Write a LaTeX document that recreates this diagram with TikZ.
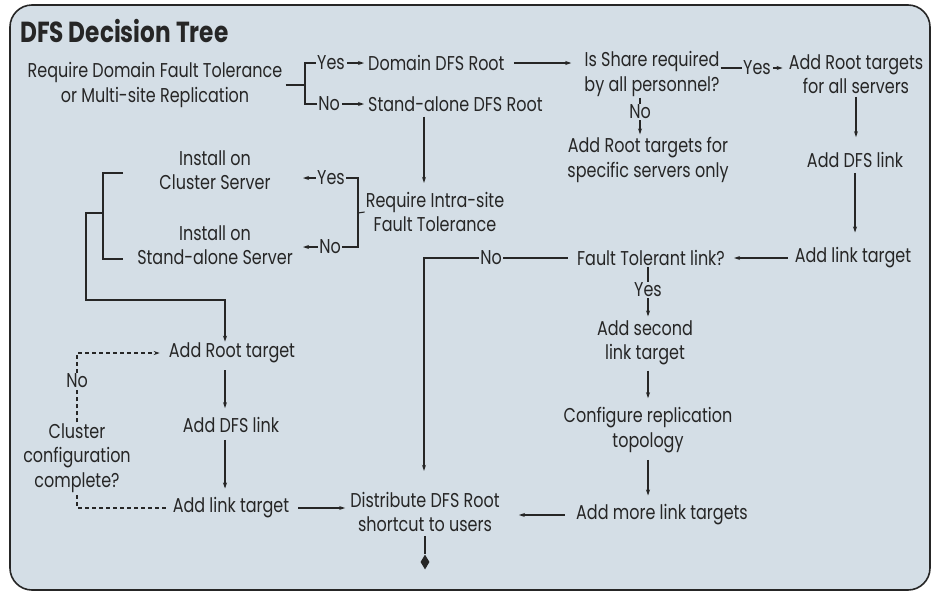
\documentclass[tikz,border=0pt]{standalone}
\usepackage{fontspec}
\newfontfamily\fut{Poppins}[FakeStretch=0.8]
\usetikzlibrary{arrows.meta,shapes.geometric}
\definecolor{bg}{HTML}{D4DEE6}
\definecolor{ink}{HTML}{262626}
\begin{document}
\begin{tikzpicture}[x=1pt,y=-1pt,
 t/.style={inner sep=1pt, align=center, text=ink, font=\fut\fontsize{20}{24.5}\selectfont},
 arr/.style={draw=ink, line width=1.1pt, -{Stealth[length=6pt,width=4pt]}},
 ln/.style={draw=ink, line width=1.1pt},
 dsh/.style={draw=ink, line width=1.1pt, dash pattern=on 4pt off 3pt},
]
\useasboundingbox (0,0) rectangle (936,595);
\draw[fill=bg, draw=ink, line width=1.6pt, rounded corners=22pt] (10,5) rectangle (930,590);

\node[t, anchor=west, font=\fut\bfseries\fontsize{29}{32}\selectfont] (title) at (19,31) {DFS Decision Tree};

\node[t] (req) at (155,85) {Require Domain Fault Tolerance\\or Multi-site Replication};
\coordinate (bk1) at (305,85);
\node[t] (yes1) at (331,63) {Yes};
\node[t] (no1) at (329,104) {No};
\node[t, anchor=west] (dom) at (367,63) {Domain DFS Root};
\node[t, anchor=west] (sa) at (367,104) {Stand-alone DFS Root};
\node[t] (share) at (652,74) {Is Share required\\by all personnel?};
\node[t] (yes3) at (757,68) {Yes};
\node[t] (addroot) at (856,74) {Add Root targets\\for all servers};
\node[t] (no2) at (640,112) {No};
\node[t] (spec) at (648,160) {Add Root targets for\\specific servers only};
\node[t] (adddfs) at (855,160) {Add DFS link};
\node[t] (addlink) at (853,258) {Add link target};
\node[t] (ftl) at (651,258) {Fault Tolerant link?};
\node[t] (no3) at (491,258) {No};
\coordinate (c1) at (424,258);
\node[t] (yes4) at (648,290) {Yes};
\node[t] (second) at (645,343) {Add second\\link target};
\node[t] (config) at (648,430) {Configure replication\\topology};
\node[t] (more) at (662,515) {Add more link targets};
\node[t] (dist) at (425,512) {Distribute DFS Root\\shortcut to users};
\node[diamond, fill=ink, inner sep=0pt, minimum width=9pt, minimum height=15pt] (end) at (425,562) {};

\node[t] (inst1) at (215,170) {Install on\\Cluster Server};
\node[t] (inst2) at (215,245) {Install on\\Stand-alone Server};
\node[t] (yes2) at (331,178) {Yes};
\node[t] (no4) at (330,247) {No};
\coordinate (ya) at (303,178);
\coordinate (na) at (303,247);
\coordinate (bk2) at (358,213);
\node[t] (intra) at (435,212) {Require Intra-site\\Fault Tolerance};

\coordinate (b3a) at (123,173);
\coordinate (b3b) at (123,259);
\coordinate (b3m) at (103,213);
\coordinate (c2) at (86,213);
\coordinate (c3) at (86,300);
\coordinate (c4) at (225,300);

\node[t] (addrt) at (232,353) {Add Root target};
\node[t] (adddfs2) at (231,425) {Add DFS link};
\node[t] (addlt2) at (231,508) {Add link target};
\node[t] (clu) at (77,458) {Cluster\\configuration\\complete?};
\node[t] (no5) at (77,381) {No};

% top section
\draw[ln] ([xshift=2pt]req.east) -- (bk1);
\draw[ln] (yes1.west) -| (bk1);
\draw[ln] (no1.west) -| (bk1);
\draw[arr, shorten <=1pt, shorten >=3pt] (yes1.east) -- (dom.west);
\draw[arr, shorten <=1pt, shorten >=3pt] (no1.east) -- (sa.west);
\draw[arr, shorten <=8pt, shorten >=12pt] (dom.east) -- (dom.east -| share.west);
\draw[ln] (share.east |- yes3.west) -- (yes3.west);
\draw[arr, shorten <=1pt, shorten >=5pt] (yes3.east) -- (yes3.east -| addroot.west);
\draw[ln] (no2.north |- share.south) -- (no2.north);
\draw[arr, shorten >=2pt] (no2.south) -- (no2.south |- spec.north);
\draw[arr, shorten <=2pt, shorten >=14pt] (addroot.south) -- (addroot.south |- adddfs.north);
\draw[arr, shorten <=4pt, shorten >=14pt] (adddfs.south) -- (adddfs.south |- addlink.north);
\draw[arr, shorten <=6pt, shorten >=8pt] (addlink.west) -- (addlink.west -| ftl.east);
\draw[ln, shorten <=8pt] (ftl.west) -- (no3.east);
\draw[arr, shorten >=20pt] (no3.west) -- (c1) -- (c1 |- dist.north);
\draw[ln] (yes4.north |- ftl.south) -- (yes4.north);
\draw[arr, shorten >=3pt] (yes4.south) -- (yes4.south |- second.north);
\draw[arr, shorten <=4pt, shorten >=8pt] (config.north |- second.south) -- (config.north);
\draw[arr, shorten <=6pt, shorten >=8pt] (config.south) -- (config.south |- more.north);
\draw[arr, shorten <=10pt, shorten >=18pt] (more.west) -- (more.west -| dist.east);
\draw[ln, shorten <=3pt] (dist.south) -- (end.north);

% middle section
\draw[arr, shorten <=4pt, shorten >=8pt] (sa.south -| c1) -- (intra.north -| c1);
\draw[ln] (yes2.east) -| (bk2);
\draw[ln] (no4.east) -| (bk2);
\draw[ln] (bk2) -- (intra.west);
\draw[arr] (yes2.west) -- (ya);
\draw[arr] (no4.west) -- (na);
\draw[ln] (b3a) -| (b3m) |- (b3b);
\draw[arr] (b3m) -- (c2) -- (c3) -- (c4) -- (c4 |- addrt.north);

% bottom left
\draw[arr, shorten <=6pt, shorten >=8pt] (c4 |- addrt.south) -- (c4 |- adddfs2.north);
\draw[arr, shorten <=6pt, shorten >=8pt] (c4 |- adddfs2.south) -- (c4 |- addlt2.north);
\draw[arr, shorten <=8pt, shorten >=4pt] (addlt2.east) -- (addlt2.east -| dist.west);
\draw[dsh] ([xshift=-6pt]addlt2.west) -- (clu.south |- addlt2.west) -- (clu.south);
\draw[dsh] (clu.north) -- (no5.south);
\draw[dsh, -{Stealth[length=6pt,width=4pt]}] (no5.north) |- ([xshift=-8pt]addrt.west);
\end{tikzpicture}
\end{document}
